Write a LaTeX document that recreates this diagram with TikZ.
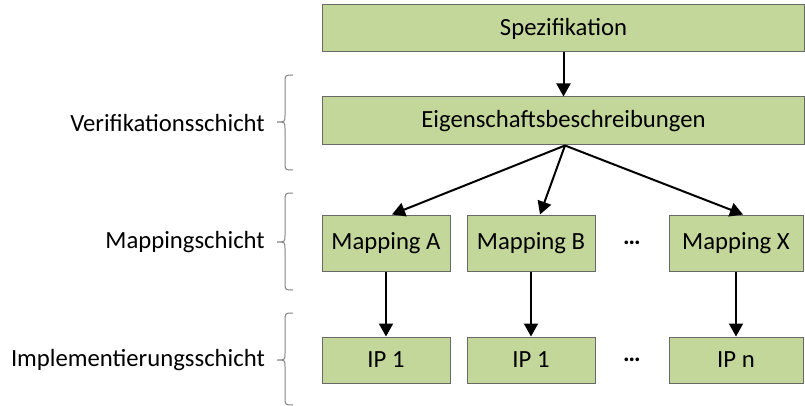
\documentclass[tikz,border=0pt]{standalone}
\usepackage{fontspec}
\setmainfont{Carlito}
\usetikzlibrary{arrows.meta}
\definecolor{boxfill}{RGB}{196,215,155}
\definecolor{boxline}{RGB}{105,105,105}
\definecolor{braceline}{RGB}{130,130,130}
\newcommand{\diagfont}{\fontsize{24.7}{29}\selectfont}
\tikzset{
  layerbox/.style={draw=boxline, line width=1pt, fill=boxfill, inner sep=0pt,
    font=\diagfont},
  widebox/.style={layerbox, minimum width=482pt, minimum height=47pt},
  smallbox/.style={layerbox, minimum width=128pt},
  mapbox/.style={minimum height=56pt},
  ipbox/.style={minimum height=46pt},
  flow/.style={line width=2pt, -{Triangle[width=14pt,length=13pt]}},
  layerlabel/.style={anchor=east, inner sep=0pt, font=\diagfont},
  dots/.style={inner sep=0pt, font=\diagfont\bfseries},
  bracepath/.style={draw=braceline, line width=1pt}
}
\newcommand{\layerbrace}[3]{% top, middle, bottom
  \draw[bracepath] (293,#1) .. controls (285,#1) .. (285,#1+8) -- (285,#2-7)
    .. controls (285,#2) .. (277,#2) .. controls (285,#2) .. (285,#2+7)
    -- (285,#3-8) .. controls (285,#3) .. (293,#3);}
\begin{document}
\begin{tikzpicture}[x=1pt,y=-1pt]
\useasboundingbox (0,0) rectangle (805,406);

% top two wide boxes
\node[widebox] (spez) at (563.5,28.5) {Spezifikation};
\node[widebox, minimum height=48pt] (eig) at (563.5,121) {Eigenschaftsbeschreibungen};

% mapping layer
\node[smallbox, mapbox] (mA) at (386,243) {Mapping A};
\node[smallbox, mapbox] (mB) at (531,243) {Mapping B};
\node[smallbox, mapbox, minimum width=134pt] (mX) at (736,243) {Mapping X};
\node[dots] (mdots) at (632,243) {…};

% implementation layer
\node[smallbox, ipbox] (ipA) at (386,360) {IP 1};
\node[smallbox, ipbox] (ipB) at (531,360) {IP 1};
\node[smallbox, ipbox, minimum width=134pt] (ipX) at (736,360) {IP n};
\node[dots] (idots) at (632,360) {…};

% connectors
\draw[flow] (spez.south) -- (eig.north);
\coordinate (fork) at ([xshift=1.5pt]eig.south);
\draw[flow] (fork) -- ([xshift=6pt]mA.north);
\draw[flow] (fork) -- ([xshift=9pt]mB.north);
\draw[flow] (fork) -- ([xshift=7pt]mX.north);
\draw[flow] (mA.south) -- (ipA.north);
\draw[flow] (mB.south) -- (ipB.north);
\draw[flow] (mX.south) -- (ipX.north);

% layer labels and braces
\node[layerlabel] (lv) at (265,123) {Verifikationsschicht};
\node[layerlabel] (lm) at (265,242) {Mappingschicht};
\node[layerlabel] (li) at (265,360) {Implementierungsschicht};
\layerbrace{75}{122}{170}
\layerbrace{193}{242}{290}
\layerbrace{313}{360}{405}
\end{tikzpicture}
\end{document}
